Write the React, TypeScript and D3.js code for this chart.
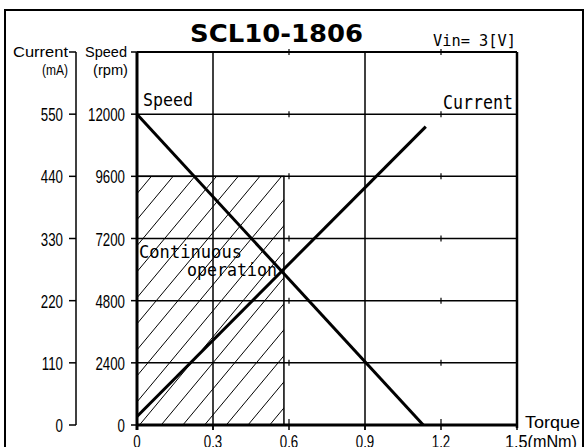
import React from "react";
import * as d3 from "d3";

// ---- data ----
const speedTorque = [0, 1.13];
const speedValues = [12000, 0];
const currentTorque = [0, 1.14];
const currentValues = [15, 528];
const contTorque = 0.58;
const contSpeed = 9600;
const speedTicks = [0, 2400, 4800, 7200, 9600, 12000];
const currentTicks = [0, 110, 220, 330, 440, 550];
const torqueTicks = [0, 0.3, 0.6, 0.9, 1.2, 1.5];
const torqueLabels = ["0", "0.3", "0.6", "0.9", "1.2", "1.5(mNm)"];
const gridTorque = [0.3, 0.9];
const minorTorque = [0.6, 1.2];

const W = 584;
const H = 447;
const L = 137, R = 517, T = 52, B = 425;

const x = d3.scaleLinear().domain([0, 1.5]).range([L, R]);
const yS = d3.scaleLinear().domain([0, 14400]).range([B, T]);
const yC = d3.scaleLinear().domain([0, 660]).range([B, T]);

const NUM_FONT = "'Liberation Sans', Arial, sans-serif";
const MONO = "'DejaVu Sans Mono', monospace";

function SText(props: any) {
  const { x, y, sx = 0.76, size = 17.5, anchor = "start", family = NUM_FONT, weight = "normal", children } = props;
  return (
    <text
      transform={`translate(${x},${y}) scale(${sx},1)`}
      textAnchor={anchor}
      fontFamily={family}
      fontSize={size}
      fontWeight={weight}
      fill="#000"
    >
      {children}
    </text>
  );
}

export default function App() {
  const line = d3.line<[number, number]>();
  const speedPts: [number, number][] = speedTorque.map((t, i) => [x(t), yS(speedValues[i])]);
  const currentPts: [number, number][] = currentTorque.map((t, i) => [x(t), yC(currentValues[i])]);

  // hatch region
  const hx0 = x(0), hx1 = x(contTorque), hy0 = yS(contSpeed), hy1 = yS(0);
  const slope = 1.2;
  const spacing = 21.7;
  const hatch: string[] = [];
  const hh = hy1 - hy0;
  for (let bx = hx0 - hh / slope - 40; bx < hx1 + 10; bx += spacing) {
    const xs = bx + 11;
    hatch.push(`M${xs},${hy1}L${xs + hh / slope},${hy0}`);
  }

  const lastIdx = torqueLabels.length - 1;

  return (
    <svg width={W} height={H} style={{ position: "absolute", left: 0, top: 0, background: "#fff" }}>
      <defs>
        <clipPath id="hclip">
          <rect x={hx0} y={hy0} width={hx1 - hx0} height={hy1 - hy0} />
        </clipPath>
      </defs>
      <rect x={0} y={0} width={W} height={H} fill="#fff" />
      {/* outer frame */}
      <rect x={5} y={10} width={578} height={460} fill="none" stroke="#000" strokeWidth={2} />

      {/* title */}
      <text x={190} y={42} textLength={173} lengthAdjust="spacingAndGlyphs" fontFamily="'DejaVu Sans', sans-serif" fontWeight="bold" fontSize={24} fill="#000">SCL10-1806</text>
      <text x={433} y={46} textLength={83} lengthAdjust="spacingAndGlyphs" fontFamily={MONO} fontSize={16} fill="#000">Vin= 3[V]</text>

      {/* hatch */}
      <g clipPath="url(#hclip)">
        {hatch.map((d, i) => (
          <path key={i} d={d} stroke="#000" strokeWidth={1} fill="none" />
        ))}
      </g>
      <rect x={hx0} y={hy0} width={hx1 - hx0} height={hy1 - hy0} fill="none" stroke="#000" strokeWidth={1.5} />

      {/* grid horizontal */}
      {speedTicks.filter((v) => v > 0).map((v) => (
        <line key={"h" + v} x1={L} x2={R} y1={yS(v)} y2={yS(v)} stroke="#000" strokeWidth={1.5} />
      ))}
      {/* grid vertical */}
      {gridTorque.map((t) => (
        <line key={"v" + t} x1={x(t)} x2={x(t)} y1={T} y2={B + 5} stroke="#000" strokeWidth={1.5} />
      ))}
      {/* minor ticks on grid lines */}
      {minorTorque.map((t) =>
        [14400, ...speedTicks.filter((v) => v > 0)].map((v) => (
          <line key={"m" + t + "-" + v} x1={x(t)} x2={x(t)} y1={yS(v) - 3} y2={yS(v) + 3} stroke="#000" strokeWidth={1.2} />
        ))
      )}
      {minorTorque.map((t) => (
        <line key={"mb" + t} x1={x(t)} x2={x(t)} y1={B - 6} y2={B} stroke="#000" strokeWidth={1.2} />
      ))}

      {/* plot frame */}
      <line x1={L} x2={R} y1={T} y2={T} stroke="#000" strokeWidth={2} />
      <line x1={R} x2={R} y1={T} y2={B + 3} stroke="#000" strokeWidth={2.5} />
      <line x1={L} x2={R} y1={B} y2={B} stroke="#000" strokeWidth={3} />
      <line x1={L} x2={L} y1={T} y2={B + 5} stroke="#000" strokeWidth={3} />

      {/* curves */}
      <path d={line(speedPts) || ""} stroke="#000" strokeWidth={3} fill="none" />
      <path d={line(currentPts) || ""} stroke="#000" strokeWidth={3} fill="none" />

      {/* speed axis ticks & labels */}
      {[...speedTicks, 14400].map((v) => (
        <line key={"st" + v} x1={L - 6} x2={L} y1={yS(v)} y2={yS(v)} stroke="#000" strokeWidth={1.5} />
      ))}
      {speedTicks.map((v) => (
        <SText key={"sl" + v} x={125} y={yS(v) + 7} anchor="end">{String(v)}</SText>
      ))}

      {/* current axis */}
      <line x1={76} x2={76} y1={T} y2={B} stroke="#000" strokeWidth={1.5} />
      {[...currentTicks, 660].map((v) => (
        <line key={"ct" + v} x1={69} x2={76} y1={yC(v)} y2={yC(v)} stroke="#000" strokeWidth={1.5} />
      ))}
      {currentTicks.map((v) => (
        <SText key={"cl" + v} x={63} y={yC(v) + 7} anchor="end">{String(v)}</SText>
      ))}

      {/* axis titles */}
      <text x={13} y={57} textLength={55} lengthAdjust="spacingAndGlyphs" fontFamily={NUM_FONT} fontSize={15} fill="#000">Current</text>
      <text x={42} y={75} textLength={26} lengthAdjust="spacingAndGlyphs" fontFamily={NUM_FONT} fontSize={14} fill="#000">(mA)</text>
      <text x={85} y={57} textLength={42} lengthAdjust="spacingAndGlyphs" fontFamily={NUM_FONT} fontSize={15} fill="#000">Speed</text>
      <text x={93} y={75} textLength={35} lengthAdjust="spacingAndGlyphs" fontFamily={NUM_FONT} fontSize={14} fill="#000">(rpm)</text>

      {/* x ticks & labels */}
      {torqueTicks.map((t) => (
        <line key={"xt" + t} x1={x(t)} x2={x(t)} y1={B} y2={B + 5} stroke="#000" strokeWidth={1.5} />
      ))}
      {torqueLabels.map((s, i) =>
        i < lastIdx ? (
          <SText key={"xl" + s} x={x(torqueTicks[i])} y={448} anchor="middle">{s}</SText>
        ) : (
          <text key={"xl" + s} x={x(torqueTicks[i]) - 12} y={448} textLength={72} lengthAdjust="spacingAndGlyphs" fontFamily={NUM_FONT} fontSize={17.5} fill="#000">{s}</text>
        )
      )}
      <text x={525} y={428} textLength={55} lengthAdjust="spacingAndGlyphs" fontFamily={NUM_FONT} fontSize={16} fill="#000">Torque</text>

      {/* in-plot labels */}
      <text x={143} y={106} textLength={50} lengthAdjust="spacingAndGlyphs" fontFamily={MONO} fontSize={18} fill="#000">Speed</text>
      <text x={443} y={109} textLength={70} lengthAdjust="spacingAndGlyphs" fontFamily={MONO} fontSize={19} fill="#000">Current</text>
      <text x={139} y={258} textLength={103} lengthAdjust="spacingAndGlyphs" fontFamily={MONO} fontSize={17} fill="#000">Continuous</text>
      <text x={187} y={276} textLength={90} lengthAdjust="spacingAndGlyphs" fontFamily={MONO} fontSize={17} fill="#000">operation</text>
    </svg>
  );
}
